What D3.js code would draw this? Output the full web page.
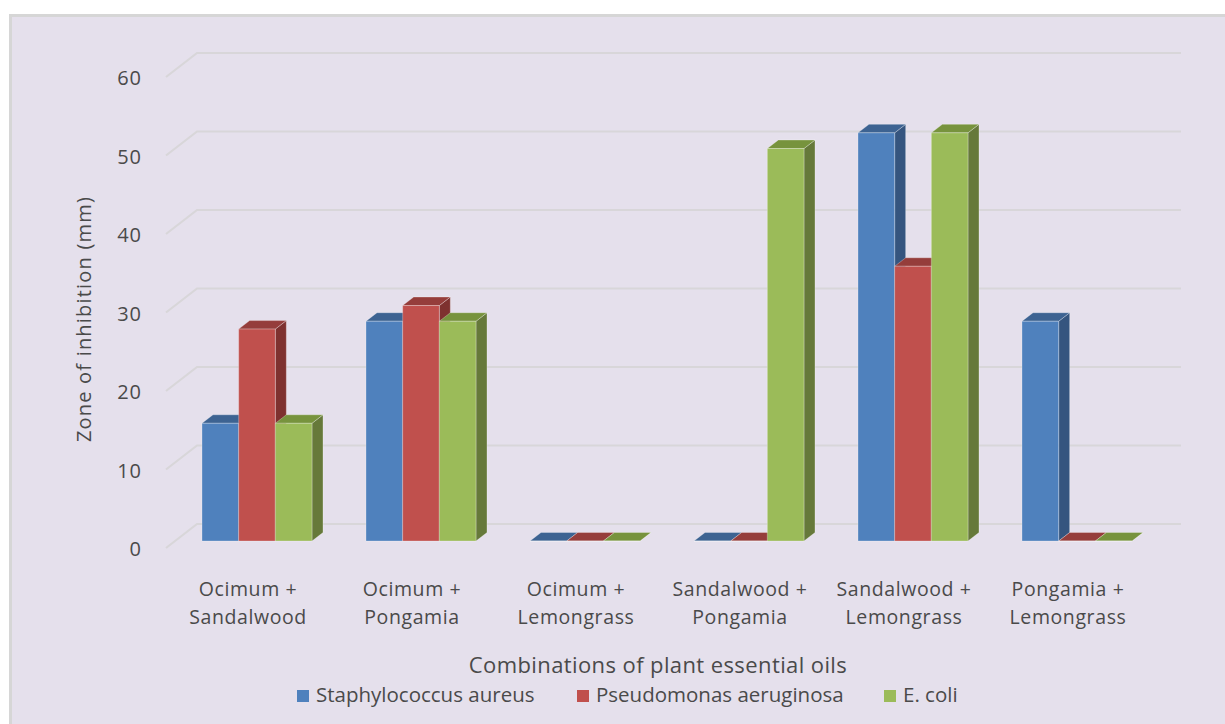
<!DOCTYPE html>
<html>
<head>
<meta charset="utf-8">
<script src="https://cdn.jsdelivr.net/npm/d3@7"></script>
<style>
  html, body { margin: 0; padding: 0; background: #ffffff; }
  svg { display: block; }
  text { font-family: "Open Sans", "Noto Sans", sans-serif; fill: #4a4a4a; }
</style>
</head>
<body>
<svg id="chart" width="1225" height="724"></svg>
<script>
// ---- data ----
const categories = [
  ["Ocimum +", "Sandalwood"],
  ["Ocimum +", "Pongamia"],
  ["Ocimum +", "Lemongrass"],
  ["Sandalwood +", "Pongamia"],
  ["Sandalwood +", "Lemongrass"],
  ["Pongamia +", "Lemongrass"]
];
const seriesNames = ["Staphylococcus aureus", "Pseudomonas aeruginosa", "E. coli"];
const staphylococcus = [15, 28, 0, 0, 52, 28];
const pseudomonas    = [27, 30, 0, 0, 35, 0];
const ecoli          = [15, 28, 0, 50, 52, 0];
const yTicks = [0, 10, 20, 30, 40, 50, 60];
const yTitle = "Zone of inhibition (mm)";
const xTitle = "Combinations of plant essential oils";

const seriesValues = [staphylococcus, pseudomonas, ecoli];
const colors = [
  { front: "#4f81bd", top: "#3d6392", side: "#35557f" },
  { front: "#c0504d", top: "#953d3b", side: "#7e312f" },
  { front: "#9bbb59", top: "#77933d", side: "#66793a" }
];

const svg = d3.select("#chart");

// chart area background + border
svg.append("rect").attr("x", 10.5).attr("y", 15.5).attr("width", 1230).attr("height", 730)
  .attr("fill", "#e5e0ec").attr("stroke", "#d6d6d6").attr("stroke-width", 3);

// ---- scales (front plane) ----
const catKeys = categories.map((c, i) => i);
const x = d3.scaleBand().domain(catKeys).range([166, 1150]);
const y = d3.scaleLinear().domain([0, 60]).range([548, 77]);
const inner = d3.scaleBand().domain(d3.range(seriesNames.length)).range([-55, 55]);

// depth projection: full depth offset
const DX = 31, DY = -24;
const proj = (px, v, d) => [px + DX * d, y(v) + DY * d];

const dFront = 0.29, dBack = 0.645;

// gridlines: back wall + left side wall
const grid = svg.append("g").attr("stroke", "#d8d6d9").attr("stroke-width", 2.2).attr("fill", "none");
yTicks.forEach(t => {
  const a = proj(x.range()[0], t, 0), b = proj(x.range()[0], t, 1), c = proj(x.range()[1], t, 1);
  grid.append("polyline").attr("points", [a, b, c].map(p => p.join(",")).join(" "));
});

// y tick labels
svg.append("g").selectAll("text").data(yTicks).join("text")
  .attr("x", 142).attr("y", d => y(d) + 3)
  .attr("text-anchor", "end").attr("dominant-baseline", "middle")
  .style("font-size", "20px").style("letter-spacing", "1px").text(d => d);

// bars
const barsG = svg.append("g");
categories.forEach((cat, ci) => {
  seriesValues.forEach((vals, si) => {
    const v = vals[ci];
    const cx = x(ci) + x.bandwidth() / 2;
    const xl = cx + inner(si), xr = xl + inner.bandwidth();
    const fb = proj(xl, 0, dFront), ft = proj(xl, v, dFront);
    const fbr = proj(xr, 0, dFront), ftr = proj(xr, v, dFront);
    const bt = proj(xl, v, dBack), btr = proj(xr, v, dBack), bbr = proj(xr, 0, dBack);
    const col = colors[si];
    const g = barsG.append("g").attr("stroke", "rgba(255,255,255,0.28)").attr("stroke-width", 1).attr("stroke-linejoin", "round");
    g.append("polygon").attr("points", [ftr, btr, bbr, fbr].map(p => p.join(",")).join(" ")).attr("fill", col.side);
    g.append("polygon").attr("points", [ft, bt, btr, ftr].map(p => p.join(",")).join(" ")).attr("fill", col.top);
    g.append("polygon").attr("points", [fb, ft, ftr, fbr].map(p => p.join(",")).join(" ")).attr("fill", col.front);
  });
});

// category labels
const catG = svg.append("g");
categories.forEach((lines, ci) => {
  const t = catG.append("text").attr("text-anchor", "middle").style("font-size", "19.5px").style("letter-spacing", "0.6px");
  lines.forEach((ln, li) => {
    t.append("tspan").attr("x", x(ci) + x.bandwidth() / 2).attr("y", 596 + li * 28).text(ln);
  });
});

// axis titles
svg.append("text").attr("transform", "translate(91,319) rotate(-90)")
  .attr("text-anchor", "middle").style("font-size", "20px").style("letter-spacing", "1.2px").text(yTitle);
svg.append("text").attr("x", 658).attr("y", 673).attr("text-anchor", "middle")
  .style("font-size", "22px").style("letter-spacing", "0.4px").text(xTitle);

// legend
const legendX = [297, 577, 884];
const lg = svg.append("g");
seriesNames.forEach((name, i) => {
  lg.append("rect").attr("x", legendX[i]).attr("y", 690).attr("width", 12).attr("height", 12).attr("fill", colors[i].front);
  lg.append("text").attr("x", legendX[i] + 19).attr("y", 702).style("font-size", "20.5px").text(name);
});
</script>
</body>
</html>
